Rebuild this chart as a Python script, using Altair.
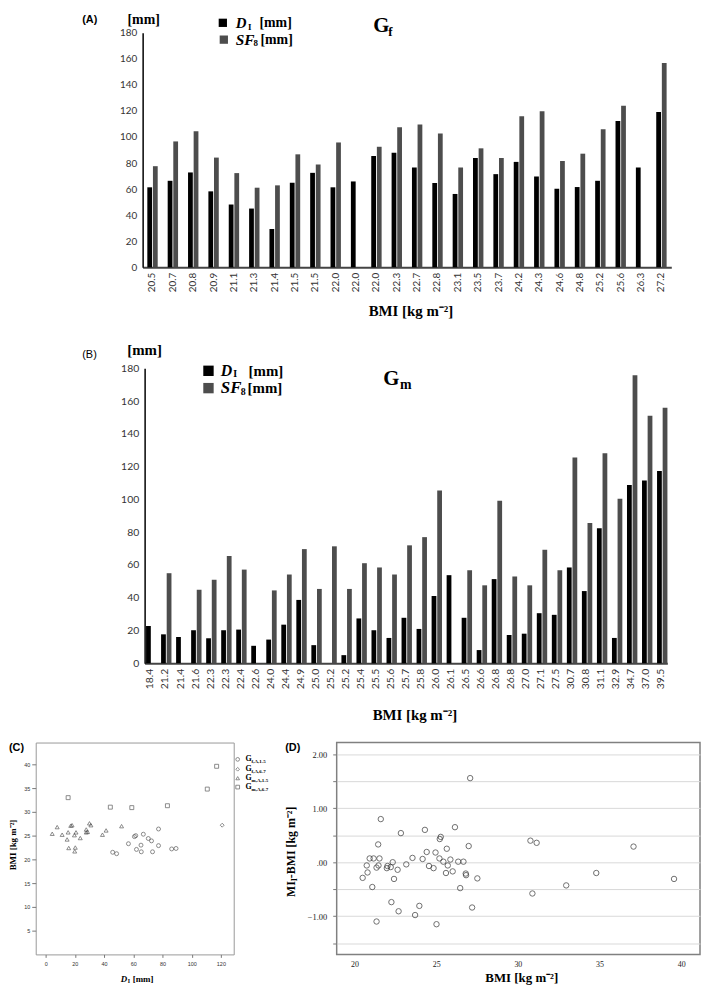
import json
import altair as alt
import pandas as pd

# ---------------- data ----------------
A_LABELS = ["20.5", "20.7", "20.8", "20.9", "21.1", "21.3", "21.4", "21.5", "21.5", "22.0", "22.0", "22.0", "22.3",
            "22.7", "22.8", "23.1", "23.5", "23.7", "24.2", "24.3", "24.6", "24.8", "25.2", "25.6", "26.3", "27.2"]
A_DI = [61.4, 66.4, 72.8, 58.3, 48.2, 45.1, 29.4, 64.9, 72.5, 61.4, 65.9, 85.4, 88.0,
        76.6, 64.7, 56.3, 83.9, 71.5, 80.9, 69.7, 60.3, 61.6, 66.4, 112.3, 76.6, 119.2]
A_SF8 = [77.6, 96.6, 104.5, 84.2, 72.3, 61.1, 62.9, 86.7, 78.9, 95.8, None, 92.5, 107.5,
         109.5, 102.7, 76.6, 91.3, 83.9, 115.9, 119.7, 81.6, 87.2, 106.0, 124.0, None, 156.7]

B_LABELS = ["18.4", "21.2", "21.4", "21.6", "22.3", "22.3", "22.4", "22.6", "24.0", "24.4", "24.9", "25.0", "25.2",
            "25.2", "25.4", "25.5", "25.6", "25.7", "25.8", "26.0", "26.1", "26.5", "26.6", "26.8", "26.8", "27.0",
            "27.1", "27.5", "30.7", "30.8", "31.1", "32.9", "34.7", "37.0", "39.5"]
B_DI = [22.8, 17.7, 16.1, 20.2, 15.3, 20.2, 20.6, 10.7, 14.5, 23.6, 38.7, 11.1, None,
        5.0, 27.4, 20.2, 15.5, 27.8, 21.0, 41.1, 53.8, 27.8, 8.1, 51.4, 17.3, 18.1,
        30.6, 29.6, 58.5, 44.1, 82.4, 15.5, 108.8, 111.5, 117.3]
B_SF8 = [None, 55.0, None, 44.9, 51.0, 65.5, 57.2, None, 44.5, 54.2, 69.7, 45.4, 71.4,
         45.4, 61.1, 58.5, 54.2, 72.0, 77.0, 105.4, None, 56.8, 47.6, 99.2, 53.0, 47.6,
         69.3, 56.8, 125.6, 85.7, 128.2, 100.4, 175.8, 151.0, 156.0]

C_GROUPS = ["Gf,A,1-5", "Gf,A,6-7", "Gm,A,1-5", "Gm,A,6-7"]
C_CIRCLE_DI = [45.9, 48.6, 56.7, 60.8, 61.7, 62.2, 65.3, 65.5, 66.9, 70.3, 72.5, 73.2, 77.3, 77.3, 86.3, 89.3]
C_CIRCLE_BMI = [21.5, 21.2, 23.3, 24.8, 25.0, 22.1, 23.0, 21.6, 25.3, 24.4, 23.9, 21.6, 26.4, 22.9, 22.2, 22.3]
C_DIAMOND_DI = [120.9]
C_DIAMOND_BMI = [27.2]
C_TRI_DI = [4.5, 7.9, 11.3, 14.7, 15.4, 15.8, 17.2, 18.1, 19.7, 20.3, 19.9, 20.8, 23.7, 27.8, 27.8, 28.7, 30.0,
            31.0, 38.9, 41.4, 52.0]
C_TRI_BMI = [25.4, 26.8, 25.2, 24.2, 25.7, 22.4, 27.1, 27.2, 25.1, 22.5, 21.7, 25.7, 24.5, 26.3, 25.7, 25.8, 27.6,
             27.2, 25.2, 26.1, 27.0]
C_SQ_DI = [15.4, 44.3, 59.0, 83.4, 110.7, 117.1]
C_SQ_BMI = [33.0, 31.0, 30.9, 31.3, 34.8, 39.6]

D_BMI = [20.50, 20.75, 20.80, 20.93, 21.09, 21.17, 21.35, 21.35, 21.45, 21.47, 21.53, 21.61, 21.98, 22.02, 22.22,
         22.26, 22.34, 22.42, 22.64, 22.70, 22.84, 23.17, 23.55, 23.71, 23.97, 24.17, 24.31, 24.42, 24.56, 24.84,
         24.96, 25.02, 25.20, 25.22, 25.28, 25.44, 25.60, 25.65, 25.71, 25.87, 26.01, 26.15, 26.35, 26.47, 26.67,
         26.81, 26.83, 26.99, 27.08, 27.20, 27.52, 30.77, 30.89, 31.15, 32.96, 34.80, 37.08, 39.56]
D_DIFF = [-0.29, -0.06, -0.19, 0.07, -0.46, 0.07, -0.10, -1.10, 0.33, -0.06, 0.07, 0.80, -0.11, -0.07, -0.09,
          -0.74, 0.00, -0.31, -0.14, -0.91, 0.54, -0.04, 0.08, -0.98, -0.81, 0.06, 0.60, 0.19, -0.07, -0.11,
          0.18, -1.15, 0.07, 0.43, 0.47, 0.01, -0.20, 0.25, -0.06, 0.05, -0.17, 0.65, 0.01, -0.48, 0.01,
          -0.21, -0.24, 0.30, 1.56, -0.84, -0.30, 0.40, -0.58, 0.36, -0.43, -0.20, 0.29, -0.31]

SERIF = "Liberation Serif"
SANS = "Liberation Sans"
LBL = "Lato"


# ---------------- helpers ----------------
def txt(text, x, y, size=12, font=SERIF, weight="bold", style="normal", align="left",
        baseline="middle", angle=None, color="#000"):
    kw = dict(font=font, fontSize=size, fontWeight=weight, fontStyle=style, align=align,
              baseline=baseline, color=color)
    if angle is not None:
        kw["angle"] = angle
    return alt.Chart(pd.DataFrame({"t": [text]})).mark_text(**kw).encode(
        x=alt.value(x), y=alt.value(y), text="t:N")


def sq(x, y, size, color):
    return alt.Chart(pd.DataFrame({"t": [0]})).mark_square(size=size, color=color, opacity=1).encode(
        x=alt.value(x), y=alt.value(y))


def spacer(w, h):
    return alt.Chart(pd.DataFrame({"t": [""]})).mark_text().encode(
        x=alt.value(0), y=alt.value(0), text="t:N").properties(width=w, height=h)


def bars(labels, di, sf, width, height, pin, pout, lsize):
    rows = []
    for i in range(len(labels)):
        if di[i] is not None:
            rows.append({"idx": i, "series": "DI", "value": di[i]})
        if sf[i] is not None:
            rows.append({"idx": i, "series": "SF8", "value": sf[i]})
    df = pd.DataFrame(rows)
    expr = json.dumps(labels) + "[datum.value]"
    return alt.Chart(df).mark_bar().encode(
        x=alt.X("idx:O", sort=list(range(len(labels))),
                scale=alt.Scale(domain=list(range(len(labels))), paddingInner=pin, paddingOuter=pout),
                axis=alt.Axis(title=None, labelExpr=expr, labelAngle=-90, labelFont=LBL, labelFontSize=lsize,
                              labelColor="#333", ticks=False, domainColor="#444", domainWidth=2,
                              labelPadding=5)),
        xOffset=alt.XOffset("series:N", scale=alt.Scale(domain=["DI", "SF8"], paddingInner=0.15)),
        y=alt.Y("value:Q", scale=alt.Scale(domain=[0, 180], nice=False),
                axis=alt.Axis(values=list(range(0, 181, 20)), title=None, grid=False, ticks=False,
                              domainColor="#000", domainWidth=1.5, labelFont=LBL, labelFontSize=lsize,
                              labelColor="#333", labelPadding=6)),
        color=alt.Color("series:N", scale=alt.Scale(domain=["DI", "SF8"], range=["#000000", "#4d4d4d"]),
                        legend=None),
    ).properties(width=width, height=height)


# ---------------- panel A ----------------
A_W, A_H = 534, 237
pa = alt.layer(
    bars(A_LABELS, A_DI, A_SF8, A_W, A_H, 0.49, 0.23, 10),
    txt("(A)", -61, -19, size=11, font=SANS, baseline="top"),
    txt("[mm]", 1, -20, size=14, align="center", baseline="top"),
    sq(81, -10, 70, "#000"),
    txt("D", 94, -9.5, size=15, style="italic"),
    txt("I", 106.5, -6, size=9),
    txt("[mm]", 118, -9.5, size=14),
    sq(82, 7, 70, "#4d4d4d"),
    txt("SF", 94, 7, size=15.5, style="italic"),
    txt("8", 112, 10.5, size=9),
    txt("[mm]", 119, 7, size=14),
    txt("G", 233, -1, size=21, baseline="alphabetic"),
    txt("f", 248, 3, size=13, baseline="alphabetic"),
    txt("BMI [kg m⁻²]", 271, 281, size=15, align="center"),
).properties(width=A_W, height=A_H)

# ---------------- panel B ----------------
B_W, B_H = 528, 298
pb = alt.layer(
    bars(B_LABELS, B_DI, B_SF8, B_W, B_H, 0.41, 0.095, 10.5),
    txt("(B)", -63, -19, size=11, font=SANS, weight="normal", baseline="top"),
    txt("[mm]", 0, -25, size=15, align="center", baseline="top"),
    sq(64.5, 2.5, 110, "#000"),
    txt("D", 77, 2.5, size=16, style="italic"),
    txt("I", 89.5, 6, size=10),
    txt("[mm]", 105, 2.5, size=15),
    sq(64.5, 20, 110, "#4d4d4d"),
    txt("SF", 77, 20, size=17, style="italic"),
    txt("8", 97, 23.5, size=10),
    txt("[mm]", 104, 20, size=15),
    txt("G", 241, 17, size=21, baseline="alphabetic"),
    txt("m", 258, 21, size=14, baseline="alphabetic"),
    txt("BMI [kg m⁻²]", 273, 350, size=15, align="center"),
).properties(width=B_W, height=B_H)

# ---------------- panel C ----------------
C_W, C_H = 200, 214
c_rows = []
for g, xs, ys in [(C_GROUPS[0], C_CIRCLE_DI, C_CIRCLE_BMI), (C_GROUPS[1], C_DIAMOND_DI, C_DIAMOND_BMI),
                  (C_GROUPS[2], C_TRI_DI, C_TRI_BMI), (C_GROUPS[3], C_SQ_DI, C_SQ_BMI)]:
    for xv, yv in zip(xs, ys):
        c_rows.append({"group": g, "di": xv, "bmi": yv})
c_df = pd.DataFrame(c_rows)
SHAPES = ["circle", "diamond", "triangle-up", "square"]
c_pts = alt.Chart(c_df).mark_point(filled=False, size=16, strokeWidth=0.8, color="#333").encode(
    x=alt.X("di:Q", scale=alt.Scale(domain=[-6.8, 128.8], nice=False, zero=False),
            axis=alt.Axis(values=[0, 20, 40, 60, 80, 100, 120], title=None, grid=False, domain=False,
                          tickSize=3, tickColor="#777", labelFont=SANS, labelFontSize=5.5, labelColor="#333",
                          labelPadding=4)),
    y=alt.Y("bmi:Q", scale=alt.Scale(domain=[0, 44.6], nice=False),
            axis=alt.Axis(values=[5, 10, 15, 20, 25, 30, 35, 40], title=None, grid=False, domain=False,
                          tickSize=4, tickColor="#777", labelFont=SANS, labelFontSize=5.5, labelColor="#333",
                          labelPadding=2)),
    shape=alt.Shape("group:N", scale=alt.Scale(domain=C_GROUPS, range=SHAPES), legend=None),
)
c_layers = [c_pts,
            txt("(C)", -27, 0, size=11, font=SANS, baseline="top"),
            txt("BMI [kg m⁻²]", -22.5, 103.5, size=9, align="center", angle=270),
            txt("D", 86, 239, size=9, style="italic"),
            txt("I", 93, 241, size=6),
            txt("[mm]", 98, 239, size=9)]
leg_y = [17, 27, 36, 45]
subs = ["f,A,1-5", "f,A,6-7", "m,A,1-5", "m,A,6-7"]
for i in range(4):
    c_layers.append(alt.Chart(pd.DataFrame({"t": [0]})).mark_point(
        shape=SHAPES[i], filled=False, size=14, strokeWidth=0.8, color="#333").encode(
        x=alt.value(204), y=alt.value(leg_y[i])))
    c_layers.append(txt("G", 212, leg_y[i], size=8))
    c_layers.append(txt(subs[i], 218, leg_y[i] + 2, size=5))
pc = alt.layer(*c_layers).properties(width=C_W, height=C_H,
                                     view=alt.ViewBackground(stroke="#999", strokeWidth=1))

# ---------------- panel D ----------------
D_W, D_H = 367, 214
d_df = pd.DataFrame({"bmi": D_BMI, "diff": D_DIFF})
d_pts = alt.Chart(d_df).mark_point(shape="circle", filled=False, size=30, strokeWidth=1, color="#333").encode(
    x=alt.X("bmi:Q", scale=alt.Scale(domain=[18.91, 41.15], nice=False, zero=False),
            axis=alt.Axis(values=[20, 25, 30, 35, 40], title=None, grid=False, domain=False, ticks=False,
                          labelFont=SERIF, labelFontSize=8, labelColor="#222", labelPadding=6)),
    y=alt.Y("diff:Q", scale=alt.Scale(domain=[-1.71, 2.22], nice=False, zero=False),
            axis=alt.Axis(values=[-1.5, -1, -0.5, 0, 0.5, 1, 1.5, 2], title=None, grid=True, gridColor="#d9d9d9",
                          domain=False, tickSize=4, tickColor="#777",
                          labelExpr="datum.value == 0 ? '.00' : (datum.value % 1 == 0 ? format(datum.value, '.2f') : '')",
                          labelFont=SERIF, labelFontSize=8.5, labelColor="#222", labelPadding=6)),
)
pd_ = alt.layer(
    d_pts,
    txt("(D)", -52, 0, size=11, font=SANS, baseline="top"),
    txt("MI", -46, 156, size=12, angle=270),
    txt("I", -42, 140, size=8, angle=270),
    txt("-BMI [kg m⁻²]", -46, 137, size=12, angle=270),
    txt("BMI [kg m⁻²]", 187, 238, size=13, align="center"),
).properties(width=D_W, height=D_H, view=alt.ViewBackground(stroke="#808080", strokeWidth=1.5))

# ---------------- layout ----------------
row1 = alt.hconcat(spacer(100, 314), pa, spacing=8, bounds="flush")
row2 = alt.hconcat(spacer(102, 377), pb, spacing=8, bounds="flush")
row3 = alt.hconcat(pc, pd_, spacing=104, bounds="flush")

chart = alt.vconcat(row1, row2, row3, spacing=0).properties(padding=0).configure_view(stroke=None)
chart.save("out.html", embed_options={"renderer": "svg", "actions": False})
